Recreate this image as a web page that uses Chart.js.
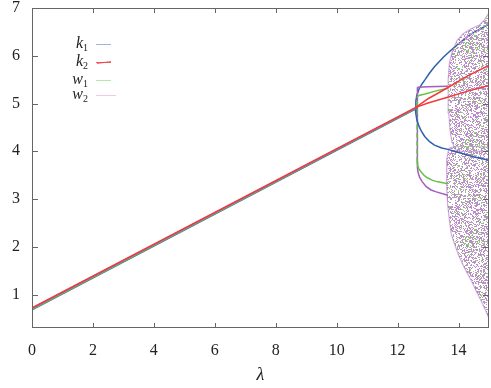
<!DOCTYPE html>
<html>
<head>
<meta charset="utf-8">
<script src="https://cdn.jsdelivr.net/npm/chart.js@4/dist/chart.umd.min.js"></script>
<style>
html, body { margin: 0; padding: 0; background: #fff; }
</style>
</head>
<body>
<canvas id="chart-bif" width="491" height="388"></canvas>
<script>
// tick labels
var xTicks = [0, 2, 4, 6, 8, 10, 12, 14];
var yTicks = [1, 2, 3, 4, 5, 6, 7];

// legend text: [symbol, subscript]
var legendNames = [["k", "1"], ["k", "2"], ["w", "1"], ["w", "2"]];

// k1 (blue)
var k1Main = [[0, 0.68], [12.6, 4.89]];
var k1Up = [[12.58, 4.9], [12.6, 5.05], [12.63, 5.17], [12.7, 5.3], [12.8, 5.41], [12.89, 5.49], [13.05, 5.64], [13.21, 5.77], [13.5, 5.97], [13.76, 6.12], [14.1, 6.3], [14.42, 6.46], [15, 6.66]];
var k1Down = [[12.58, 4.9], [12.6, 4.78], [12.63, 4.67], [12.67, 4.58], [12.72, 4.5], [12.78, 4.42], [12.89, 4.31], [13.05, 4.2], [13.21, 4.13], [13.45, 4.07], [13.65, 4.04], [13.92, 3.99], [14.52, 3.88], [15, 3.81]];

// k2 (red)
var k2Main = [[0, 0.72], [12.6, 4.92]];
var k2Up = [[12.6, 4.92], [13.0, 5.1], [13.64, 5.33], [14.3, 5.58], [15, 5.8]];
var k2Down = [[12.6, 4.92], [13.0, 5.01], [13.64, 5.13], [14.3, 5.26], [15, 5.38]];

// w1 (green)
var w1Main = [[0, 0.69], [12.6, 4.9]];
var w1Jump = [[12.64, 3.78], [12.64, 5.14]];
var w1Up = [[12.64, 5.14], [12.7, 5.17], [12.9, 5.2], [13.3, 5.27], [13.65, 5.32]];
var w1Down = [[12.64, 3.78], [12.66, 3.7], [12.7, 3.63], [12.78, 3.56], [12.88, 3.49], [12.99, 3.44], [13.15, 3.39], [13.32, 3.36], [13.65, 3.32]];

// w2 (purple)
var w2Main = [[0, 0.71], [12.6, 4.91]];
var w2Jump = [[12.65, 3.65], [12.65, 5.34]];
var w2Up = [[12.65, 5.34], [13.0, 5.35], [13.65, 5.36]];
var w2Down = [[12.65, 3.65], [12.68, 3.54], [12.72, 3.46], [12.8, 3.37], [12.94, 3.26], [13.1, 3.19], [13.27, 3.15], [13.65, 3.08]];

// chaotic bands (outline of the dotted clouds)
var cloudUpper = [[13.92, 4.02], [13.78, 4.2], [13.72, 4.45], [13.68, 4.8], [13.66, 5.2], [13.66, 5.5], [13.7, 5.85], [13.8, 6.1], [13.95, 6.32], [14.15, 6.46], [14.4, 6.56], [14.7, 6.65], [14.85, 6.75], [15, 6.9], [15, 4.0], [14.5, 4.0], [14.1, 4.0], [13.92, 4.02]];
var cloudLower = [[13.68, 4.06], [13.62, 3.85], [13.6, 3.6], [13.62, 3.3], [13.64, 2.9], [13.7, 2.55], [13.76, 2.27], [13.9, 2.0], [14.03, 1.78], [14.2, 1.55], [14.42, 1.29], [14.6, 1.05], [14.74, 0.87], [14.9, 0.65], [15, 0.5], [15, 4.08], [14.5, 4.1], [14.0, 4.1], [13.8, 4.09], [13.68, 4.06]];

var blue = "#2d5fae";
var red = "#f23a3a";
var green = "#69c047";
var purple = "#a55dbd";

var ctx = document.getElementById("chart-bif").getContext("2d");

function pts(arr) {
  return arr.map(function (p) { return { x: p[0], y: p[1] }; });
}

// integer hash used only for the dot texture of the clouds
function mix(i) {
  var h = i >>> 0;
  h ^= h >>> 16;
  h = Math.imul(h, 0x7feb352d);
  h ^= h >>> 15;
  h = Math.imul(h, 0x846ca68b);
  h ^= h >>> 16;
  return h >>> 0;
}

function stipple() {
  var c = document.createElement("canvas");
  c.width = 97;
  c.height = 97;
  var g = c.getContext("2d");
  for (var x = 0; x < 97; x++) {
    for (var y = 0; y < 97; y++) {
      var h = mix(y * 97 + x + 7);
      if ((h & 255) < 115) {
        g.fillStyle = ((h >>> 8) & 7) < 2 ? "#8fcf70" : "#bd88d0";
        g.fillRect(x, y, 1, 1);
      }
    }
  }
  return ctx.createPattern(c, "repeat");
}

function curve(data, color, order, dash) {
  return {
    data: pts(data),
    showLine: true,
    borderColor: color,
    borderWidth: 1.5,
    pointRadius: 0,
    fill: false,
    tension: 0,
    borderDash: dash || [],
    order: order,
  };
}

function cloud(data) {
  return {
    data: pts(data),
    showLine: true,
    borderColor: "rgba(165,93,189,0.5)",
    borderWidth: 1.2,
    backgroundColor: stipple(),
    pointRadius: 0,
    fill: "shape",
    order: 20,
  };
}

function serif(size, italic) {
  return (italic ? "italic " : "") + size + "px 'Liberation Serif', 'Times New Roman', serif";
}

var frame = {
  id: "frame",
  afterDatasetsDraw: function (chart) {
    var c = chart.ctx, a = chart.chartArea, xs = chart.scales.x, ys = chart.scales.y;
    c.save();
    c.strokeStyle = "#666";
    c.lineWidth = 1;
    c.strokeRect(a.left + 0.5, a.top + 0.5, a.right - a.left - 1, a.bottom - a.top - 1);
    c.beginPath();
    xTicks.forEach(function (v) {
      if (v === 0) return;
      var px = Math.round(xs.getPixelForValue(v)) + 0.5;
      c.moveTo(px, a.bottom); c.lineTo(px, a.bottom - 5);
      c.moveTo(px, a.top); c.lineTo(px, a.top + 5);
    });
    yTicks.forEach(function (v) {
      if (v === 7) return;
      var py = Math.round(ys.getPixelForValue(v)) + 0.5;
      c.moveTo(a.left, py); c.lineTo(a.left + 6, py);
      c.moveTo(a.right, py); c.lineTo(a.right - 6, py);
    });
    c.stroke();
    c.restore();
  },
  afterDraw: function (chart) {
    var c = chart.ctx;
    var rows = [44, 62, 80, 95];
    var lineCols = ["rgba(45,95,174,0.45)", "rgba(242,58,58,0.8)", "rgba(105,192,71,0.45)", "rgba(220,120,170,0.4)"];
    c.save();
    c.fillStyle = "#222";
    c.textBaseline = "alphabetic";
    legendNames.forEach(function (n, i) {
      var y = rows[i];
      c.font = serif(16, true);
      var w1 = c.measureText(n[0]).width;
      c.font = serif(10, false);
      var w2 = c.measureText(n[1]).width;
      var x0 = 88 - w1 - w2;
      c.font = serif(16, true);
      c.fillText(n[0], x0, y + 4);
      c.font = serif(10, false);
      c.fillText(n[1], x0 + w1, y + 7);
      c.strokeStyle = lineCols[i];
      c.lineWidth = 1;
      c.beginPath();
      c.moveTo(96, y + 0.5);
      c.lineTo(i === 3 ? 116 : 111, y + 0.5);
      if (i === 1) { c.moveTo(97, y + 1.5); c.lineTo(111, y - 0.5); }
      c.stroke();
    });
    c.restore();
  },
};

new Chart(ctx, {
  type: "scatter",
  data: {
    datasets: [
      curve(k2Main, red, 1),
      curve(w2Main, purple, 2),
      curve(w1Main, green, 3),
      curve(k1Main, blue, 4),
      curve(k2Up, red, 1),
      curve(k2Down, red, 1),
      curve(k1Up, blue, 25),
      curve(k1Down, blue, 5),
      curve(w1Up, green, 6),
      curve(w1Down, green, 6),
      curve(w1Jump, green, 6, [5, 3]),
      curve(w2Up, purple, 7),
      curve(w2Down, purple, 7),
      curve(w2Jump, purple, 7),
      cloud(cloudUpper),
      cloud(cloudLower),
    ],
  },
  options: {
    responsive: false,
    animation: false,
    layout: { padding: { left: 0, right: 2, top: 8, bottom: 0 } },
    plugins: {
      legend: { display: false },
      tooltip: { enabled: false },
    },
    scales: {
      x: {
        type: "linear",
        min: 0,
        max: 15,
        afterBuildTicks: function (scale) {
          scale.ticks = xTicks.map(function (v) { return { value: v }; });
        },
        afterFit: function (scale) {
          scale.height = 60;
          scale.paddingLeft = 0;
          scale.paddingRight = 0;
        },
        grid: { display: false, drawTicks: false, tickLength: 0 },
        border: { display: false },
        ticks: {
          padding: 13,
          color: "#222",
          maxRotation: 0,
          autoSkip: false,
          font: { size: 16, family: "'Liberation Serif', serif" },
        },
        title: {
          display: true,
          text: "λ",
          color: "#222",
          padding: { top: 0, bottom: 2 },
          font: { size: 18, style: "italic", family: "'Liberation Serif', serif" },
        },
      },
      y: {
        type: "linear",
        min: 0.3,
        max: 7,
        afterBuildTicks: function (scale) {
          scale.ticks = yTicks.map(function (v) { return { value: v }; });
        },
        afterFit: function (scale) {
          scale.width = 32;
          scale.paddingTop = 0;
          scale.paddingBottom = 0;
        },
        grid: { display: false, drawTicks: false, tickLength: 0 },
        border: { display: false },
        ticks: {
          padding: 12,
          color: "#222",
          autoSkip: false,
          font: { size: 16, family: "'Liberation Serif', serif" },
        },
      },
    },
  },
  plugins: [frame],
});
</script>
</body>
</html>
